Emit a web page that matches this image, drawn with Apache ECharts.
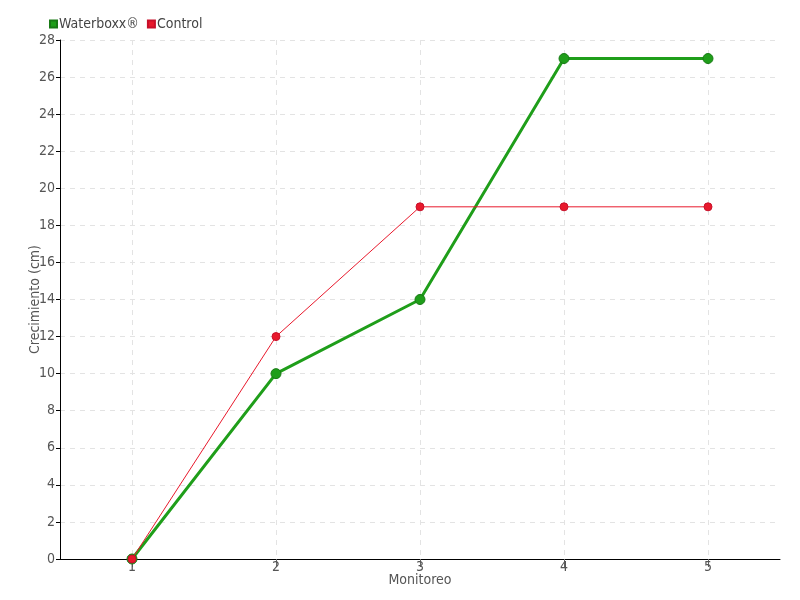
<!DOCTYPE html>
<html><head><meta charset="utf-8">
<script src="https://cdn.jsdelivr.net/npm/echarts@6/dist/echarts.min.js"></script>
<style>html,body{margin:0;padding:0;background:#fff}#c{width:800px;height:600px}</style>
</head><body><div id="c"></div>
<script>
const categories = ['1', '2', '3', '4', '5'];
const waterboxx = [0, 10, 14, 27, 27];
const control = [0, 12, 19, 19, 19];
const seriesNames = ['Waterboxx®', 'Control'];

// pad categories so that split lines fall on the category centres
const xData = [''];
categories.forEach(c => { xData.push(c); xData.push(''); });
const toPairs = arr => arr.map((v, i) => [2 * i + 1, v]);
const odd = i => i % 2 === 1;
const FONT = '"DejaVu Sans Condensed", "Liberation Sans Narrow", sans-serif';

const chart = echarts.init(document.getElementById('c'));
chart.setOption({
  animation: false,
  textStyle: { fontFamily: FONT },
  legend: {
    left: 44, top: 12, itemWidth: 7, itemHeight: 7, itemGap: 8,
    icon: 'rect',
    textStyle: { fontFamily: FONT, fontSize: 14, color: '#444', padding: [0, 0, 0, -3] },
    data: seriesNames
  },
  grid: { left: 60, right: 20, top: 40, bottom: 41 },
  xAxis: {
    type: 'category', boundaryGap: false, data: xData,
    name: 'Monitoreo', nameLocation: 'middle', nameGap: 14, nameMoveOverlap: false,
    nameTextStyle: { fontFamily: FONT, fontSize: 14, color: '#555' },
    axisLine: { lineStyle: { color: '#000', width: 1 } },
    axisTick: { show: true, interval: odd, length: 8, lineStyle: { color: '#666' } },
    axisLabel: { interval: odd, fontFamily: FONT, fontSize: 14, color: '#555', margin: 1 },
    splitLine: { show: true, interval: odd, lineStyle: { color: '#e3e3e3', type: [5, 5] } }
  },
  yAxis: {
    type: 'value', min: 0, max: 28, interval: 2,
    name: 'Crecimiento (cm)', nameLocation: 'middle', nameGap: 18, nameMoveOverlap: false,
    nameTextStyle: { fontFamily: FONT, fontSize: 14, color: '#555' },
    axisLine: { show: true, lineStyle: { color: '#000', width: 1 } },
    axisTick: { show: true, length: 4, lineStyle: { color: '#000' } },
    axisLabel: { fontFamily: FONT, fontSize: 14, color: '#555', margin: 5 },
    splitLine: { show: true, lineStyle: { color: '#e3e3e3', type: [5, 5] } }
  },
  series: [
    {
      name: seriesNames[0], type: 'line', data: toPairs(waterboxx),
      symbol: 'circle', symbolSize: 10,
      lineStyle: { color: '#1f9e1a', width: 3 },
      itemStyle: { color: '#1f9e1a', borderColor: '#187a15', borderWidth: 1 },
      z: 2
    },
    {
      name: seriesNames[1], type: 'line', data: toPairs(control),
      symbol: 'circle', symbolSize: 8,
      lineStyle: { color: '#e8192c', width: 1 },
      itemStyle: { color: '#e8192c', borderColor: '#c8102a', borderWidth: 1 },
      z: 3
    }
  ]
});
</script></body></html>
